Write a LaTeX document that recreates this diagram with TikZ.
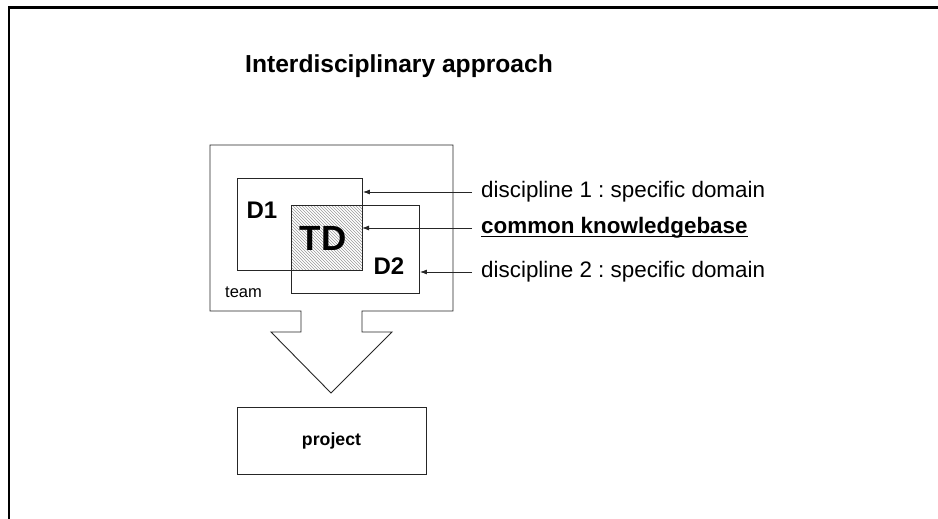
\documentclass[tikz,border=0pt]{standalone}
\usepackage{fontspec}
\setmainfont{Liberation Sans}
\frenchspacing
\usetikzlibrary{patterns,arrows.meta}
\begin{document}
\begin{tikzpicture}[x=1pt,y=-1pt,
  line/.style={draw=black!85,line width=0.9pt},
  boxlbl/.style={font=\bfseries\fontsize{24}{24}\selectfont},
  side/.style={anchor=west,inner sep=0pt,font=\fontsize{22.4}{24}\selectfont},
  pointer/.style={draw=black!85,line width=0.9pt,-{Latex[length=7pt,width=5pt]}}]
\useasboundingbox (0,0) rectangle (938,519);
% slide frame
\draw[line width=2.6pt] (9,519) -- (9,7.5) -- (938,7.5);
% title
\node[font=\bfseries\fontsize{24.6}{26}\selectfont] (title) at (399,66) {Interdisciplinary approach};
% team shape with arrow
\draw[line] (210,145) -- (453,145) -- (453,311) -- (362,311) -- (362,332) -- (392,332)
  -- (331,393) -- (271,332) -- (301,332) -- (301,311) -- (210,311) -- cycle;
\node[font=\fontsize{16.5}{18}\selectfont,anchor=west,inner sep=0pt] (team) at (225,292) {team};
% TD hatched overlap
\fill[pattern=north west lines,pattern color=black!40] (291,205) rectangle (362,270);
% D1 and D2 boxes
\node[line,minimum width=125pt,minimum height=92pt,anchor=north west,inner sep=0pt] (d1) at (237,178) {};
\node[line,minimum width=128pt,minimum height=88pt,anchor=north west,inner sep=0pt] (d2) at (291,205) {};
\node[boxlbl] (d1lbl) at (262,210) {D1};
\node[boxlbl] (d2lbl) at (389,266) {D2};
\node[font=\bfseries\fontsize{35}{36}\selectfont] (td) at (323,238) {TD};
\coordinate (tdright) at (362,228);
% side labels
\node[side] (l1) at (481,192) {discipline 1 : specific domain};
\node[side,font=\bfseries\fontsize{22.4}{24}\selectfont] (l2) at (481,228) {common knowledgebase};
\draw[line width=1.1pt] ([yshift=-3pt]l2.base west) -- ([yshift=-3pt]l2.base east);
\node[side] (l3) at (481,272) {discipline 2 : specific domain};
\draw[pointer] ([xshift=-9pt]l1.west) -- (l1.west -| d1.east);
\draw[pointer] ([xshift=-9pt]l2.west) -- (l2.west -| tdright);
\draw[pointer] ([xshift=-9pt]l3.west) -- (l3.west -| d2.east);
% project
\node[line,minimum width=189pt,minimum height=67pt,inner sep=0pt,font=\bfseries\fontsize{17.7}{19}\selectfont] (proj) at (331.5,440.5) {project};
\end{tikzpicture}
\end{document}
